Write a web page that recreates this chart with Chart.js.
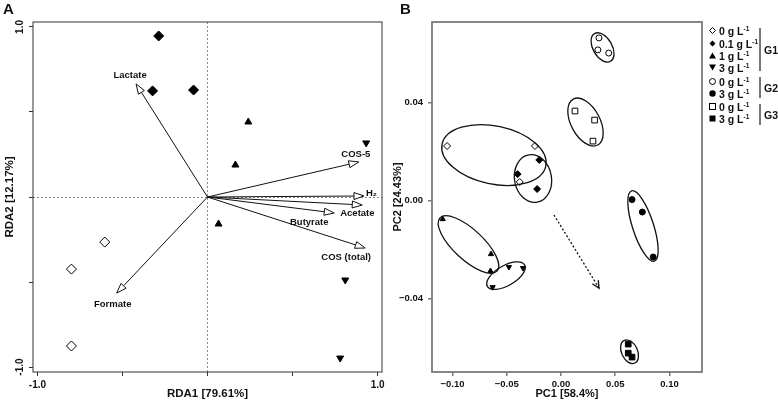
<!DOCTYPE html>
<html>
<head>
<meta charset="utf-8">
<script src="https://cdn.jsdelivr.net/npm/chart.js@4.4.1/dist/chart.umd.min.js"></script>
<style>
body{margin:0;background:#fff;width:778px;height:403px;overflow:hidden;position:relative;font-family:"Liberation Sans",Arial,sans-serif;}
canvas{position:absolute;top:0}
#cA{left:0}
#cB{left:388px}
.panel{position:absolute;font-weight:bold;font-size:15px;line-height:17px;color:#111}
.lg{position:absolute;left:709px;height:12px;line-height:12px;font-size:10.5px;font-weight:bold;color:#111;white-space:nowrap}
.lg svg{position:absolute;left:0;top:2px}
.lg span{position:absolute;left:10px;top:0}
.lg sup{font-size:6.5px;vertical-align:top;line-height:8px}
.bar{position:absolute;left:759px;width:1.5px;background:#777}
.gl{position:absolute;left:764px;font-size:10.5px;font-weight:bold;color:#111;line-height:12px}
</style>
</head>
<body>
<canvas id="cA" width="388" height="403"></canvas>
<canvas id="cB" width="390" height="403"></canvas>
<div class="panel" style="left:3px;top:0px">A</div>
<div class="panel" style="left:400px;top:0px">B</div>
<div id="legend"></div>
<script>
// ---- panel A: RDA ----
var aTicks = [-1, -0.5, 0, 0.5, 1];
var a0X = [-0.604, -0.80, -0.80],  a0Y = [-0.265, -0.424, -0.876];   // 0 g/L
var a01X = [-0.287, -0.323, -0.082], a01Y = [0.947, 0.624, 0.629];   // 0.1 g/L
var a1X = [0.24, 0.164, 0.065],     a1Y = [0.441, 0.188, -0.159];    // 1 g/L
var a3X = [0.933, 0.81, 0.78],      a3Y = [0.318, -0.488, -0.947];   // 3 g/L

var vecNames = ['Lactate', 'COS-5', 'H\u2082', 'Butyrate', 'Acetate', 'COS (total)', 'Formate'];
var vecX = [-0.42, 0.89, 0.92, 0.91, 0.745, 0.927, -0.534];
var vecY = [0.665, 0.206, 0.006, -0.047, -0.094, -0.30, -0.565];

// ---- panel B: PCA ----
var bXTicks = [-0.10, -0.05, 0, 0.05, 0.10];
var bYTicks = [-0.04, 0, 0.04];
var g1c0X = [-0.105, -0.024, -0.038], g1c0Y = [0.0223, 0.0223, 0.0076];
var g1c01X = [-0.020, -0.040, -0.022], g1c01Y = [0.0166, 0.0108, 0.0047];
var g1c1X = [-0.109, -0.0645, -0.065], g1c1Y = [-0.0076, -0.0219, -0.0288];
var g1c3X = [-0.048, -0.035, -0.063], g1c3Y = [-0.0272, -0.0276, -0.0354];
var g2c0X = [0.035, 0.034, 0.044], g2c0Y = [0.0665, 0.0616, 0.0603];
var g2c3X = [0.0655, 0.075, 0.085], g2c3Y = [0.0004, -0.0047, -0.0231];
var g3c0X = [0.0129, 0.031, 0.0295], g3c0Y = [0.0366, 0.0329, 0.0243];
var g3c3X = [0.062, 0.062, 0.0655], g3c3Y = [-0.0587, -0.0624, -0.0640];
var trendX = [-0.0065, 0.0351], trendY = [-0.0059, -0.0358];

var legendLabels = ['0 g L', '0.1 g L', '1 g L', '3 g L', '0 g L', '3 g L', '0 g L', '3 g L'];
var groupNames = ['G1', 'G2', 'G3'];

function pts(xs, ys) {
  return xs.map(function (x, i) { return {x: x, y: ys[i]}; });
}

// ellipse outlines around groups (centre in data units, half axes in px, angle in deg)
var ellipses = [
  {cx: 0.0383, cy: 0.0626, a: 16, b: 9.5, rot: 60},
  {cx: 0.0226, cy: 0.0321, a: 26, b: 14.5, rot: 62},
  {cx: -0.0618, cy: 0.0186, a: 53, b: 29, rot: 12},
  {cx: -0.0258, cy: 0.0090, a: 24, b: 18.5, rot: 80},
  {cx: 0.0756, cy: -0.0104, a: 37, b: 10.5, rot: 72},
  {cx: -0.0853, cy: -0.0180, a: 39, b: 15, rot: 43},
  {cx: -0.0507, cy: -0.0307, a: 21.5, b: 10, rot: -30},
  {cx: 0.0632, cy: -0.0618, a: 12.5, b: 8, rot: 65}
];
// label offsets from arrow tips, px
var labelOff = [[-6, -9], [-3, -8], [2, -3], [-53, 17], [6, 0], [-19, 9], [-4, 11]];
var labelAlign = ['center', 'center', 'left', 'center', 'left', 'center', 'center'];

var tickFont = {family: 'Liberation Sans', size: 10, weight: 'bold'};
var titleFont = {family: 'Liberation Sans', size: 11.5, weight: 'bold'};

function mk(data, style, bg, r, rot) {
  return {data: data, pointStyle: style, pointRadius: r, pointHoverRadius: r,
    pointBackgroundColor: bg, pointBorderColor: '#000', pointBorderWidth: 1,
    pointRotation: rot || 0, showLine: false};
}

var boxPlugin = {
  id: 'box',
  afterDraw: function (chart, args, opts) {
    var c = chart.ctx, a = chart.chartArea;
    c.save();
    c.strokeStyle = opts.color;
    c.lineWidth = opts.width;
    c.strokeRect(a.left, a.top, a.right - a.left, a.bottom - a.top);
    c.restore();
  }
};

var rdaPlugin = {
  id: 'rda',
  afterDatasetsDraw: function (chart) {
    var c = chart.ctx, sx = chart.scales.x, sy = chart.scales.y;
    var ox = sx.getPixelForValue(0), oy = sy.getPixelForValue(0);
    c.save();
    c.strokeStyle = '#111';
    c.lineWidth = 1;
    vecNames.forEach(function (name, i) {
      var tx = sx.getPixelForValue(vecX[i]), ty = sy.getPixelForValue(vecY[i]);
      var ang = Math.atan2(ty - oy, tx - ox), len = 10, hw = 3.5;
      var bx = tx - len * Math.cos(ang), by = ty - len * Math.sin(ang);
      c.beginPath(); c.moveTo(ox, oy); c.lineTo(bx, by); c.stroke();
      c.beginPath();
      c.moveTo(tx, ty);
      c.lineTo(bx + hw * Math.sin(ang), by - hw * Math.cos(ang));
      c.lineTo(bx - hw * Math.sin(ang), by + hw * Math.cos(ang));
      c.closePath();
      c.fillStyle = '#fff'; c.fill(); c.stroke();
      c.fillStyle = '#111';
      c.font = 'bold 9.5px "Liberation Sans"';
      c.textAlign = labelAlign[i];
      c.textBaseline = 'middle';
      c.fillText(name, tx + labelOff[i][0], ty + labelOff[i][1]);
    });
    // rotated y tick labels
    c.font = 'bold 10px "Liberation Sans"';
    c.textAlign = 'center';
    c.textBaseline = 'middle';
    [1, -1].forEach(function (v) {
      c.save();
      c.translate(20, sy.getPixelForValue(v));
      c.rotate(-Math.PI / 2);
      c.fillText(v.toFixed(1), 0, 0);
      c.restore();
    });
    c.restore();
  }
};

var pcaPlugin = {
  id: 'pca',
  afterDatasetsDraw: function (chart) {
    var c = chart.ctx, sx = chart.scales.x, sy = chart.scales.y;
    c.save();
    c.strokeStyle = '#111';
    c.lineWidth = 1.3;
    ellipses.forEach(function (e) {
      c.beginPath();
      c.ellipse(sx.getPixelForValue(e.cx), sy.getPixelForValue(e.cy), e.a, e.b, e.rot * Math.PI / 180, 0, 2 * Math.PI);
      c.stroke();
    });
    // dotted trend arrow
    var x0 = sx.getPixelForValue(trendX[0]), y0 = sy.getPixelForValue(trendY[0]);
    var x1 = sx.getPixelForValue(trendX[1]), y1 = sy.getPixelForValue(trendY[1]);
    c.lineWidth = 1.3;
    c.setLineDash([2, 2]);
    c.beginPath(); c.moveTo(x0, y0); c.lineTo(x1, y1); c.stroke();
    c.setLineDash([]);
    var ang = Math.atan2(y1 - y0, x1 - x0);
    c.beginPath();
    c.moveTo(x1 - 8 * Math.cos(ang - 0.45), y1 - 8 * Math.sin(ang - 0.45));
    c.lineTo(x1, y1);
    c.lineTo(x1 - 8 * Math.cos(ang + 0.45), y1 - 8 * Math.sin(ang + 0.45));
    c.stroke();
    c.restore();
  }
};

var zeroGrid = function (ctx) {
  return ctx.tick && ctx.tick.value === 0 ? '#8a8a8a' : 'rgba(0,0,0,0)';
};

new Chart(document.getElementById('cA'), {
  type: 'scatter',
  data: {datasets: [
    mk(pts(a0X, a0Y), 'rectRot', '#fff', 5),
    mk(pts(a01X, a01Y), 'rectRot', '#000', 5),
    mk(pts(a1X, a1Y), 'triangle', '#000', 4),
    mk(pts(a3X, a3Y), 'triangle', '#000', 4, 180)
  ]},
  options: {
    responsive: false, animation: false, devicePixelRatio: 1,
    layout: {padding: {top: 22, right: 5, left: 0, bottom: 0}},
    plugins: {legend: {display: false}, tooltip: {enabled: false}, box: {color: '#333', width: 1}},
    scales: {
      x: {
        type: 'linear', min: -1.026, max: 1.026,
        afterBuildTicks: function (s) { s.ticks = aTicks.map(function (v) { return {value: v}; }); },
        afterFit: function (s) { s.height = 31; },
        ticks: {font: tickFont, color: '#111', padding: 3, maxRotation: 0, autoSkip: false,
          callback: function (v) { return (v === -1 || v === 1) ? v.toFixed(1) : ''; }},
        grid: {color: zeroGrid, tickColor: '#333', tickLength: 4, lineWidth: 1, tickBorderDash: []},
        border: {display: false, dash: [2, 2]},
        title: {display: true, text: 'RDA1 [79.61%]', font: titleFont, color: '#111', padding: {top: 0, bottom: 2}}
      },
      y: {
        type: 'linear', min: -1.029, max: 1.029,
        afterBuildTicks: function (s) { s.ticks = aTicks.map(function (v) { return {value: v}; }); },
        afterFit: function (s) { s.width = 33; },
        ticks: {display: false},
        grid: {color: zeroGrid, tickColor: '#333', tickLength: 4, lineWidth: 1, tickBorderDash: []},
        border: {display: false, dash: [2, 2]},
        title: {display: true, text: 'RDA2 [12.17%]', font: titleFont, color: '#111', padding: {top: 3, bottom: 0}}
      }
    }
  },
  plugins: [boxPlugin, rdaPlugin]
});

var bTick = function (v) { return (v < 0 ? '\u2212' : '') + Math.abs(v).toFixed(2); };
var bFont = {family: 'Liberation Sans', size: 9.5, weight: 'bold'};

new Chart(document.getElementById('cB'), {
  type: 'scatter',
  data: {datasets: [
    mk(pts(g1c0X, g1c0Y), 'rectRot', '#fff', 3.5),
    mk(pts(g1c01X, g1c01Y), 'rectRot', '#000', 3.5),
    mk(pts(g1c1X, g1c1Y), 'triangle', '#000', 3),
    mk(pts(g1c3X, g1c3Y), 'triangle', '#000', 3, 180),
    mk(pts(g2c0X, g2c0Y), 'circle', '#fff', 3),
    mk(pts(g2c3X, g2c3Y), 'circle', '#000', 3),
    mk(pts(g3c0X, g3c0Y), 'rect', '#fff', 4),
    mk(pts(g3c3X, g3c3Y), 'rect', '#000', 4)
  ]},
  options: {
    responsive: false, animation: false, devicePixelRatio: 1,
    layout: {padding: {top: 22, right: 76, left: 0, bottom: 0}},
    plugins: {legend: {display: false}, tooltip: {enabled: false}, box: {color: '#7a7a7a', width: 1.8}},
    scales: {
      x: {
        type: 'linear', min: -0.1189, max: 0.130,
        afterBuildTicks: function (s) { s.ticks = bXTicks.map(function (v) { return {value: v}; }); },
        afterFit: function (s) { s.height = 31; },
        ticks: {font: bFont, color: '#111', padding: 3, maxRotation: 0, autoSkip: false, callback: bTick},
        grid: {color: 'rgba(0,0,0,0)', tickColor: '#7a7a7a', tickLength: 4, lineWidth: 1.5},
        border: {display: false},
        title: {display: true, text: 'PC1 [58.4%]', font: {family: 'Liberation Sans', size: 11, weight: 'bold'}, color: '#111', padding: {top: 0, bottom: 2.4}}
      },
      y: {
        type: 'linear', min: -0.0701, max: 0.0730,
        afterBuildTicks: function (s) { s.ticks = bYTicks.map(function (v) { return {value: v}; }); },
        afterFit: function (s) { s.width = 44; },
        ticks: {font: bFont, color: '#111', padding: 5, callback: bTick},
        grid: {color: 'rgba(0,0,0,0)', tickColor: '#7a7a7a', tickLength: 4, lineWidth: 1.5},
        border: {display: false},
        title: {display: true, text: 'PC2 [24.43%]', font: {family: 'Liberation Sans', size: 11, weight: 'bold'}, color: '#111', padding: {top: 3.4, bottom: 0}}
      }
    }
  },
  plugins: [boxPlugin, pcaPlugin]
});

// ---- legend for panel B ----
var marks = [
  '<polygon points="3.5,0.5 6.5,3.5 3.5,6.5 0.5,3.5" fill="#fff" stroke="#000"/>',
  '<polygon points="3.5,0.5 6.5,3.5 3.5,6.5 0.5,3.5" fill="#000"/>',
  '<polygon points="3.5,0.5 7,6.5 0,6.5" fill="#000"/>',
  '<polygon points="0,0.5 7,0.5 3.5,6.5" fill="#000"/>',
  '<circle cx="3.5" cy="3.5" r="3" fill="#fff" stroke="#000"/>',
  '<circle cx="3.5" cy="3.5" r="3.2" fill="#000"/>',
  '<rect x="0.5" y="0.5" width="6" height="6" fill="#fff" stroke="#000"/>',
  '<rect x="0.5" y="0.5" width="6" height="6" fill="#000"/>'
];
var rowY = [31, 44, 56, 68, 82, 94, 107, 119];
var html = '';
legendLabels.forEach(function (t, i) {
  html += '<div class="lg" style="top:' + (rowY[i] - 6) + 'px"><svg width="7" height="7">' + marks[i] +
    '</svg><span>' + t + '<sup>-1</sup></span></div>';
});
var bars = [[28, 71], [77, 98], [104, 125]];
bars.forEach(function (b, i) {
  html += '<div class="bar" style="top:' + b[0] + 'px;height:' + (b[1] - b[0]) + 'px"></div>';
  html += '<div class="gl" style="top:' + ((b[0] + b[1]) / 2 - 6) + 'px">' + groupNames[i] + '</div>';
});
document.getElementById('legend').innerHTML = html;
</script>
</body>
</html>
